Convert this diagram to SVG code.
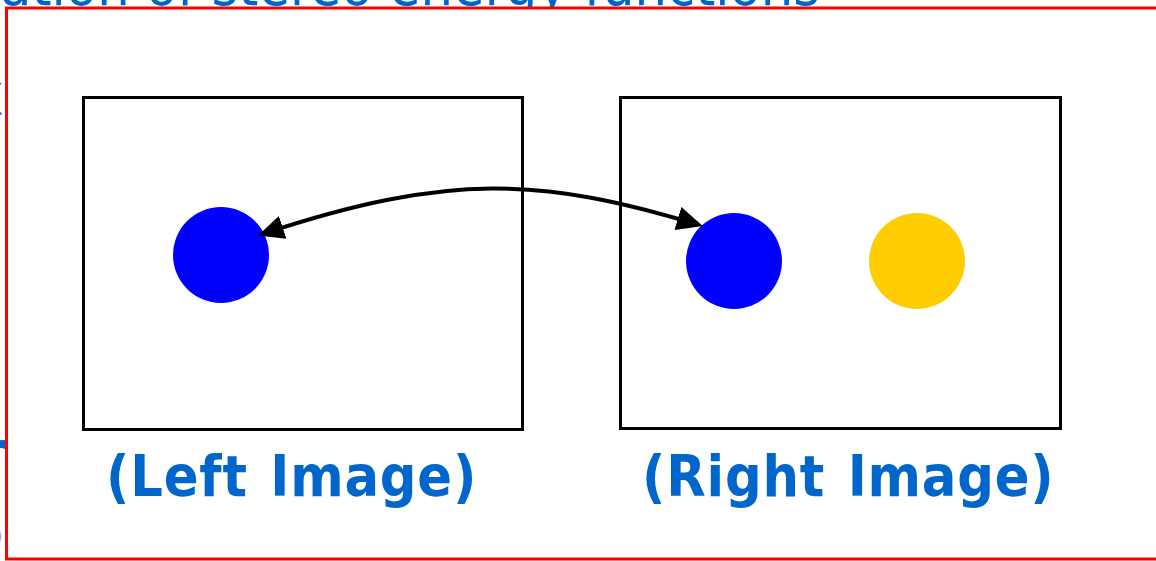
<svg xmlns="http://www.w3.org/2000/svg" width="1156" height="561" viewBox="0 0 1156 561">
  <style>
    .bg-text { font-family: "DejaVu Sans Condensed", "DejaVu Sans", sans-serif; font-size: 57px; fill: #0066CC; }
    .bg-bold { font-weight: bold; }
    .frame { fill: #FFFFFF; stroke: #FF0000; stroke-width: 3; }
    .image-box { fill: none; stroke: #000000; stroke-width: 3; }
    .label { font-family: "DejaVu Sans Condensed", "DejaVu Sans", sans-serif; font-size: 57px; font-weight: bold; fill: #0066CC; letter-spacing: 0.8px; word-spacing: 4px; }
    .link { fill: none; stroke: #000000; stroke-width: 4; }
  </style>
  <defs>
    <marker id="arrowhead" viewBox="0 0 26 24" refX="21" refY="12" markerWidth="26" markerHeight="24" markerUnits="userSpaceOnUse" orient="auto-start-reverse">
      <path d="M0,0 L26,12 L0,24 z" fill="#000000"/>
    </marker>
  </defs>

  <!-- slide text lying underneath the panel -->
  <g id="underlay">
    <text class="bg-text" x="0" y="5">ation of stereo energy functions</text>
    <text class="bg-text" x="-27" y="114">k</text>
    <text class="bg-text" x="-29" y="182">o</text>
    <text class="bg-text" x="-29" y="243">e</text>
    <text class="bg-text bg-bold" x="-26" y="331">l</text>
    <text class="bg-text bg-bold" x="-20" y="472">r</text>
    <text class="bg-text" x="-28" y="552">o</text>
  </g>

  <!-- panel frame -->
  <rect id="frame" class="frame" x="6.5" y="8" width="1160" height="551"/>

  <g id="left-image">
    <rect class="image-box" x="83.5" y="97.5" width="439" height="332"/>
    <circle cx="221" cy="255" r="48" fill="#0000FF"/>
    <text class="label" x="106" y="496">(Left Image)</text>
  </g>

  <g id="right-image">
    <rect class="image-box" x="620.5" y="97.5" width="440" height="331"/>
    <circle cx="734" cy="261" r="48" fill="#0000FF"/>
    <circle cx="917" cy="261" r="48" fill="#FFCC00"/>
    <text class="label" x="642" y="496">(Right Image)</text>
  </g>

  <g id="connectors">
    <path class="link" d="M262.8,234 C450,172 543,178 698,224.6" marker-start="url(#arrowhead)" marker-end="url(#arrowhead)"/>
  </g>
</svg>
